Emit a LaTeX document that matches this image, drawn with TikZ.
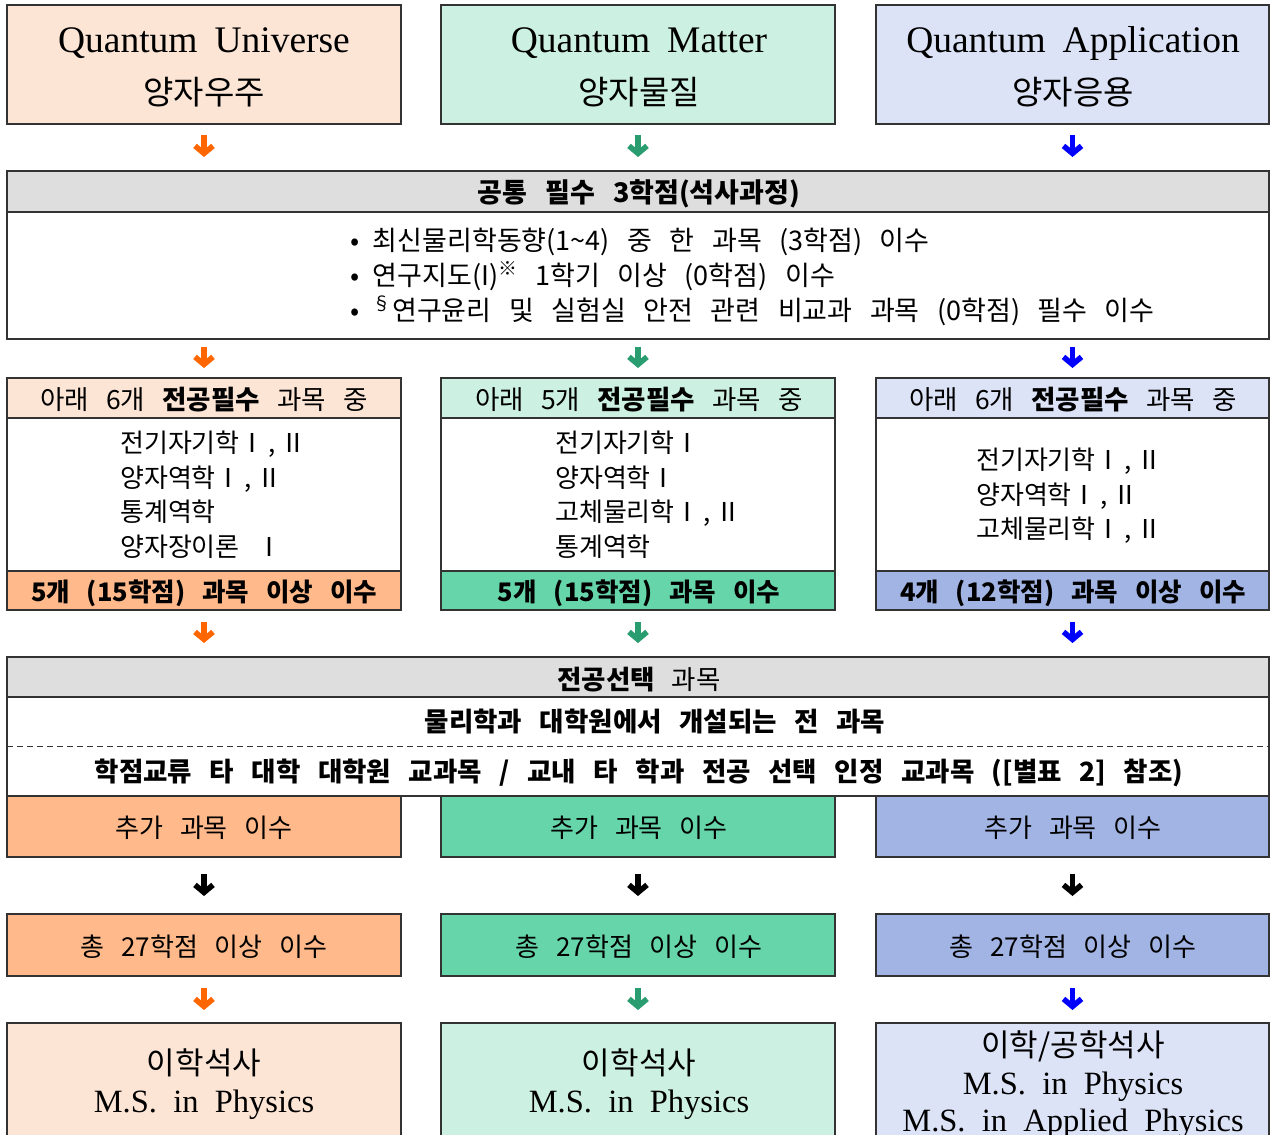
\documentclass[tikz,border=0pt]{standalone}
\usepackage{fontspec}
\setmainfont{Liberation Serif}
\newfontfamily\kr{Noto Sans CJK KR}[WordSpace=2.9]
\usetikzlibrary{arrows.meta}
\newcommand\fsz[1]{\fontsize{#1}{#1}\selectfont}
\newcommand\rmI{Ⅰ\hspace{0.12em},\hspace{0.18em}Ⅱ}
\definecolor{orL}{HTML}{FDE5D6}
\definecolor{orD}{HTML}{FFB98A}
\definecolor{grL}{HTML}{CCF0E1}
\definecolor{grD}{HTML}{66D6AA}
\definecolor{blL}{HTML}{DCE3F6}
\definecolor{blD}{HTML}{A2B4E4}
\definecolor{hdr}{HTML}{DEDEDE}
\definecolor{orA}{HTML}{FF6600}
\definecolor{grA}{HTML}{2A9D70}
\definecolor{blA}{HTML}{0000FF}
\definecolor{edge}{HTML}{333333}
\begin{document}
\begin{tikzpicture}[x=1pt,y=-1pt,
  box/.style={draw=edge, line width=1.3pt, inner sep=0pt, outer sep=0pt, anchor=north west, rectangle},
  tc/.style={inner sep=0pt, anchor=base, font=\kr},
  tl/.style={inner sep=0pt, anchor=base west, font=\kr},
  ser/.style={inner sep=0pt, anchor=base, font=\rmfamily},
  arr/.style={line width=5.5pt, -{Straight Barb[length=7.5pt, width=18pt]}}]
\useasboundingbox (0,0) rectangle (1270,1135);
\clip (0,0) rectangle (1270,1135);
\fill[white] (0,0) rectangle (1270,1135);

% ---------- top boxes
\node[box, fill=orL, minimum width=394pt, minimum height=119pt] (q1) at (7,5) {};
\node[box, fill=grL, minimum width=394pt, minimum height=119pt] (q2) at (441,5) {};
\node[box, fill=blL, minimum width=393pt, minimum height=119pt] (q3) at (876,5) {};
\node[ser] (q1t) at (204,52) {\fsz{37.5}Quantum\hspace{0.45em}Universe};
\node[ser] (q2t) at (639,52) {\fsz{37.5}Quantum\hspace{0.45em}Matter};
\node[ser] (q3t) at (1073,52) {\fsz{37.5}Quantum\hspace{0.45em}Application};
\node[tc] (q1k) at (204,104) {\fsz{33}양자우주};
\node[tc] (q2k) at (639,104) {\fsz{33}양자물질};
\node[tc] (q3k) at (1073,104) {\fsz{33}양자응용};

% ---------- common
\node[box, fill=hdr, minimum width=1262pt, minimum height=41pt] (comh) at (7,171) {};
\node[box, minimum width=1262pt, minimum height=168pt] (com) at (7,171) {};
\node[tc] (comt) at (639,202.5) {\fsz{27}\bfseries 공통 필수 3학점(석사과정)};
\node[tl] (c1) at (350,250) {\fsz{27}•\hspace{0.5em}최신물리학동향(1\textasciitilde4) 중 한 과목 (3학점) 이수};
\node[tl] (c2) at (350,285) {\fsz{27}•\hspace{0.5em}연구지도(I)\textsuperscript{※} 1학기 이상 (0학점) 이수};
\node[tl] (c3) at (350,320) {\fsz{27}•\hspace{0.5em}\textsuperscript{§}연구윤리 및 실험실 안전 관련 비교과 과목 (0학점) 필수 이수};

\draw[arr, orA, shorten <=11pt, shorten >=14pt] (q1.south) -- (q1.south |- com.north);
\draw[arr, grA, shorten <=11pt, shorten >=14pt] (q2.south) -- (q2.south |- com.north);
\draw[arr, blA, shorten <=11pt, shorten >=14pt] (q3.south) -- (q3.south |- com.north);

% ---------- major required
\node[box, minimum width=394pt, minimum height=232pt] (m1) at (7,378) {};
\node[box, fill=orL, minimum width=394pt, minimum height=40pt] (m1h) at (7,378) {};
\node[box, fill=orD, minimum width=394pt, minimum height=39pt] (m1f) at (7,571) {};
\node[box, minimum width=394pt, minimum height=232pt] (m2) at (441,378) {};
\node[box, fill=grL, minimum width=394pt, minimum height=40pt] (m2h) at (441,378) {};
\node[box, fill=grD, minimum width=394pt, minimum height=39pt] (m2f) at (441,571) {};
\node[box, minimum width=393pt, minimum height=232pt] (m3) at (876,378) {};
\node[box, fill=blL, minimum width=393pt, minimum height=40pt] (m3h) at (876,378) {};
\node[box, fill=blD, minimum width=393pt, minimum height=39pt] (m3f) at (876,571) {};

\node[tc] (m1ht) at (204,409) {\fsz{26.5}아래 6개 \textbf{전공필수} 과목 중};
\node[tc] (m2ht) at (639,409) {\fsz{26.5}아래 5개 \textbf{전공필수} 과목 중};
\node[tc] (m3ht) at (1073,409) {\fsz{26.5}아래 6개 \textbf{전공필수} 과목 중};

\node[tl] (m1a) at (120,452) {\fsz{26}전기자기학\rmI};
\node[tl] (m1b) at (120,487) {\fsz{26}양자역학\rmI};
\node[tl] (m1c) at (120,521) {\fsz{26}통계역학};
\node[tl] (m1d) at (120,556) {\fsz{26}양자장이론 Ⅰ};

\node[tl] (m2a) at (555,452) {\fsz{26}전기자기학Ⅰ};
\node[tl] (m2b) at (555,487) {\fsz{26}양자역학Ⅰ};
\node[tl] (m2c) at (555,521) {\fsz{26}고체물리학\rmI};
\node[tl] (m2d) at (555,556) {\fsz{26}통계역학};

\node[tl] (m3a) at (976,469) {\fsz{26}전기자기학\rmI};
\node[tl] (m3b) at (976,504) {\fsz{26}양자역학\rmI};
\node[tl] (m3c) at (976,538) {\fsz{26}고체물리학\rmI};

\node[tc] (m1ft) at (204,601) {\fsz{25.5}\bfseries 5개 (15학점) 과목 이상 이수};
\node[tc] (m2ft) at (639,601) {\fsz{25.5}\bfseries 5개 (15학점) 과목 이수};
\node[tc] (m3ft) at (1073,601) {\fsz{25.5}\bfseries 4개 (12학점) 과목 이상 이수};

\draw[arr, orA, shorten <=8pt, shorten >=10pt] (com.south -| q1.south) -- (m1.north);
\draw[arr, grA, shorten <=8pt, shorten >=10pt] (com.south -| q2.south) -- (m2.north);
\draw[arr, blA, shorten <=8pt, shorten >=10pt] (com.south -| q3.south) -- (m3.north);

% ---------- elective
\node[box, minimum width=1262pt, minimum height=139pt] (el) at (7,657) {};
\node[box, fill=hdr, minimum width=1262pt, minimum height=40pt] (elh) at (7,657) {};
\draw[edge, line width=1pt, dash pattern=on 6pt off 4pt] (el.west |- 0,746) -- (el.east |- 0,746);
\node[tc] (elt) at (639,689) {\fsz{26.5}\textbf{전공선택} 과목};
\node[tc] (el1) at (655,731) {\fsz{26.5}\bfseries 물리학과 대학원에서 개설되는 전 과목};
\node[tc] (el2) at (639,781) {\fsz{26.5}\bfseries 학점교류 타 대학 대학원 교과목 / 교내 타 학과 전공 선택 인정 교과목 ([별표 2] 참조)};

\draw[arr, orA, shorten <=12pt, shorten >=14pt] (m1.south) -- (m1.south |- el.north);
\draw[arr, grA, shorten <=12pt, shorten >=14pt] (m2.south) -- (m2.south |- el.north);
\draw[arr, blA, shorten <=12pt, shorten >=14pt] (m3.south) -- (m3.south |- el.north);

% ---------- additional
\node[box, fill=orD, minimum width=394pt, minimum height=61pt] (a1) at (7,796) {};
\node[box, fill=grD, minimum width=394pt, minimum height=61pt] (a2) at (441,796) {};
\node[box, fill=blD, minimum width=393pt, minimum height=61pt] (a3) at (876,796) {};
\node[tc] (a1t) at (204,837) {\fsz{26}추가 과목 이수};
\node[tc] (a2t) at (639,837) {\fsz{26}추가 과목 이수};
\node[tc] (a3t) at (1073,837) {\fsz{26}추가 과목 이수};

% ---------- totals
\node[box, fill=orD, minimum width=394pt, minimum height=62pt] (t1) at (7,914) {};
\node[box, fill=grD, minimum width=394pt, minimum height=62pt] (t2) at (441,914) {};
\node[box, fill=blD, minimum width=393pt, minimum height=62pt] (t3) at (876,914) {};
\node[tc] (t1t) at (204,956) {\fsz{26}총 27학점 이상 이수};
\node[tc] (t2t) at (639,956) {\fsz{26}총 27학점 이상 이수};
\node[tc] (t3t) at (1073,956) {\fsz{26}총 27학점 이상 이수};

\draw[arr, black, shorten <=17pt, shorten >=18pt] (a1.south) -- (t1.north);
\draw[arr, black, shorten <=17pt, shorten >=18pt] (a2.south) -- (t2.north);
\draw[arr, black, shorten <=17pt, shorten >=18pt] (a3.south) -- (t3.north);

% ---------- final
\node[box, fill=orL, minimum width=394pt, minimum height=140pt] (f1) at (7,1023) {};
\node[box, fill=grL, minimum width=394pt, minimum height=140pt] (f2) at (441,1023) {};
\node[box, fill=blL, minimum width=393pt, minimum height=140pt] (f3) at (876,1023) {};
\node[tc] (f1k) at (204,1074) {\fsz{31}이학석사};
\node[ser] (f1e) at (204,1112) {\fsz{32.5}M.S.\hspace{0.5em}in\hspace{0.5em}Physics};
\node[tc] (f2k) at (639,1074) {\fsz{31}이학석사};
\node[ser] (f2e) at (639,1112) {\fsz{32.5}M.S.\hspace{0.5em}in\hspace{0.5em}Physics};
\node[tc] (f3k) at (1073,1056) {\fsz{31}이학/공학석사};
\node[ser] (f3e) at (1073,1094) {\fsz{32.5}M.S.\hspace{0.5em}in\hspace{0.5em}Physics};
\node[ser] (f3f) at (1073,1131) {\fsz{32.5}M.S.\hspace{0.5em}in\hspace{0.5em}Applied\hspace{0.5em}Physics};

\draw[arr, orA, shorten <=12pt, shorten >=13pt] (t1.south) -- (f1.north);
\draw[arr, grA, shorten <=12pt, shorten >=13pt] (t2.south) -- (f2.north);
\draw[arr, blA, shorten <=12pt, shorten >=13pt] (t3.south) -- (f3.north);
\end{tikzpicture}
\end{document}
